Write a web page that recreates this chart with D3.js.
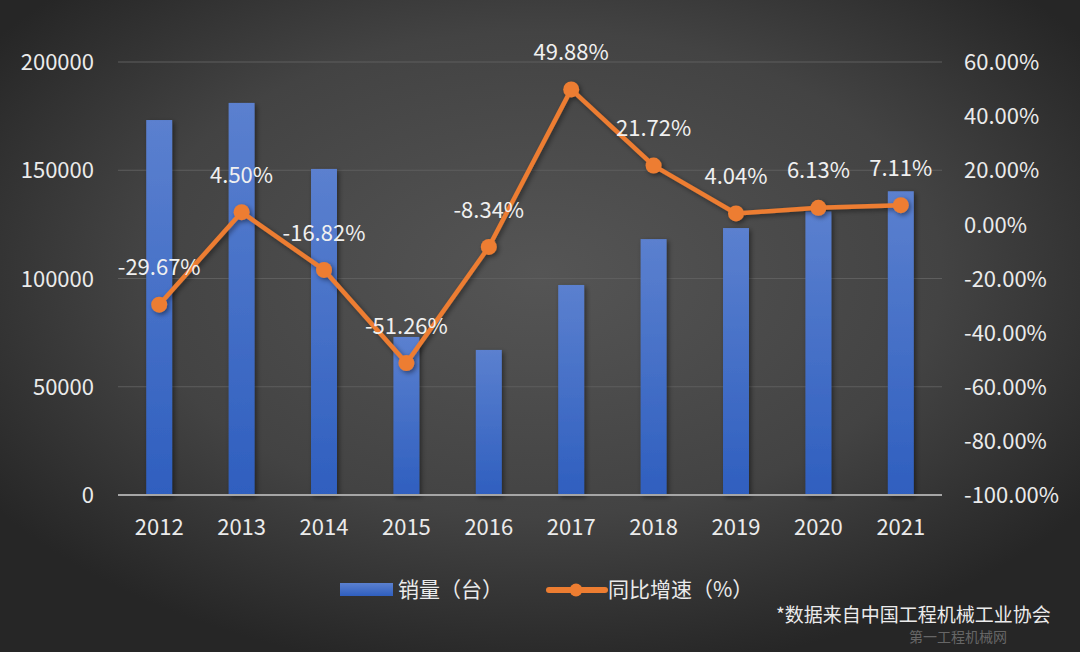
<!DOCTYPE html>
<html>
<head>
<meta charset="utf-8">
<script src="https://cdn.jsdelivr.net/npm/d3@7/dist/d3.min.js"></script>
<style>
html,body{margin:0;padding:0;background:#333;}
svg{display:block;}
text{font-family:"Noto Sans CJK SC","Noto Sans",sans-serif;}
</style>
</head>
<body>
<svg id="chart" width="1080" height="652"></svg>
<script>
const years = ["2012","2013","2014","2015","2016","2017","2018","2019","2020","2021"];
const sales = [173200, 181100, 150600, 73000, 67000, 97000, 118200, 123300, 131000, 140300];
const growth = [-29.67, 4.50, -16.82, -51.26, -8.34, 49.88, 21.72, 4.04, 6.13, 7.11];
const leftTicks = [0, 50000, 100000, 150000, 200000];
const rightTicks = [-100, -80, -60, -40, -20, 0, 20, 40, 60];
const legendLabels = ["销量（台）", "同比增速（%）"];
const sourceNote = "*数据来自中国工程机械工业协会";

const W = 1080, H = 652;
const svg = d3.select("#chart");
const defs = svg.append("defs");

const bg = defs.append("radialGradient").attr("id","bg")
  .attr("cx","50%").attr("cy","42%").attr("r","62%");
bg.append("stop").attr("offset","0%").attr("stop-color","#555555");
bg.append("stop").attr("offset","60%").attr("stop-color","#434343");
bg.append("stop").attr("offset","100%").attr("stop-color","#262626");

const barG = defs.append("linearGradient").attr("id","barGrad")
  .attr("x1","0").attr("y1","0").attr("x2","0").attr("y2","1");
barG.append("stop").attr("offset","0%").attr("stop-color","#5b80cf");
barG.append("stop").attr("offset","100%").attr("stop-color","#2f5fbf");

const sh = defs.append("filter").attr("id","shadow").attr("x","-30%").attr("y","-10%").attr("width","160%").attr("height","130%");
sh.append("feDropShadow").attr("dx",2).attr("dy",2).attr("stdDeviation",2.5)
  .attr("flood-color","#000").attr("flood-opacity",0.45);

svg.append("rect").attr("width",W).attr("height",H).attr("fill","url(#bg)");

const x0 = 118, x1 = 942, yTop = 62, yBot = 495;
const x = d3.scaleBand().domain(years).range([x0, x1]).paddingInner(0.685).paddingOuter(0.3425);
const yL = d3.scaleLinear().domain([0, 200000]).range([yBot, yTop]);
const yR = d3.scaleLinear().domain([-100, 60]).range([yBot, yTop]);

const txt = "#ebebeb";

// gridlines
svg.append("g").selectAll("line").data(leftTicks.filter(d=>d>0)).join("line")
  .attr("x1",x0).attr("x2",x1)
  .attr("y1",d=>yL(d)).attr("y2",d=>yL(d))
  .attr("stroke","#5e5e5e").attr("stroke-width",1.2);

// left axis
const axL = d3.axisLeft(yL).tickValues(leftTicks).tickFormat(d3.format("d")).tickSize(0).tickPadding(0);
const gL = svg.append("g").attr("transform","translate(94,0)").call(axL);
gL.select(".domain").remove();
gL.selectAll("text").attr("fill",txt).attr("font-size",22).attr("dy","0.35em");

// right axis
const axR = d3.axisRight(yR).tickValues(rightTicks).tickFormat(d=>d.toFixed(2)+"%").tickSize(0).tickPadding(0);
const gR = svg.append("g").attr("transform","translate(964,0)").call(axR);
gR.select(".domain").remove();
gR.selectAll("text").attr("fill",txt).attr("font-size",22).attr("dy","0.35em");

// bars
svg.append("g").selectAll("rect").data(sales).join("rect")
  .attr("x",(d,i)=>x(years[i]))
  .attr("y",d=>yL(d))
  .attr("width",x.bandwidth())
  .attr("height",d=>yBot-yL(d))
  .attr("fill","url(#barGrad)")
  .attr("filter","url(#shadow)");

// baseline
svg.append("line").attr("x1",x0).attr("x2",x1).attr("y1",yBot).attr("y2",yBot)
  .attr("stroke","#a6a6a6").attr("stroke-width",2);

// bottom axis
const axB = d3.axisBottom(x).tickSize(0).tickPadding(0);
const gB = svg.append("g").attr("transform","translate(0,527)").call(axB);
gB.select(".domain").remove();
gB.selectAll("text").attr("fill",txt).attr("font-size",22).attr("dy","0.35em");

// line
const cx = i => x(years[i]) + x.bandwidth()/2;
const line = d3.line().x((d,i)=>cx(i)).y(d=>yR(d));
const lg = svg.append("g").attr("filter","url(#shadow)");
lg.append("path").datum(growth).attr("d",line)
  .attr("fill","none").attr("stroke","#ed7d31").attr("stroke-width",4.5)
  .attr("stroke-linejoin","round");
lg.selectAll("circle").data(growth).join("circle")
  .attr("cx",(d,i)=>cx(i)).attr("cy",d=>yR(d)).attr("r",8)
  .attr("fill","#ed7d31");

// data labels
svg.append("g").selectAll("text").data(growth).join("text")
  .attr("x",(d,i)=>cx(i)).attr("y",d=>yR(d)-37)
  .attr("dy","0.35em")
  .attr("text-anchor","middle").attr("fill","#f0f0f0").attr("font-size",22)
  .text(d=>d.toFixed(2)+"%");

// legend
const leg = svg.append("g");
leg.append("rect").attr("x",340).attr("y",583).attr("width",53).attr("height",13)
  .attr("fill","url(#barGrad)");
leg.append("text").attr("x",398).attr("y",590).attr("dy","0.35em")
  .attr("fill",txt).attr("font-size",21).text(legendLabels[0]);
leg.append("line").attr("x1",549).attr("x2",605).attr("y1",590).attr("y2",590)
  .attr("stroke","#ed7d31").attr("stroke-width",6).attr("stroke-linecap","round");
leg.append("circle").attr("cx",576).attr("cy",590).attr("r",6.5).attr("fill","#ed7d31");
leg.append("text").attr("x",608).attr("y",590).attr("dy","0.35em")
  .attr("fill",txt).attr("font-size",21).text(legendLabels[1]);

// source
svg.append("text").attr("x",776).attr("y",615).attr("dy","0.35em")
  .attr("fill",txt).attr("font-size",19).text(sourceNote);

// faint watermark
svg.append("text").attr("x",958).attr("y",642)
  .attr("text-anchor","middle").attr("fill","#666").attr("font-size",14)
  .text("第一工程机械网");
</script>
</body>
</html>
